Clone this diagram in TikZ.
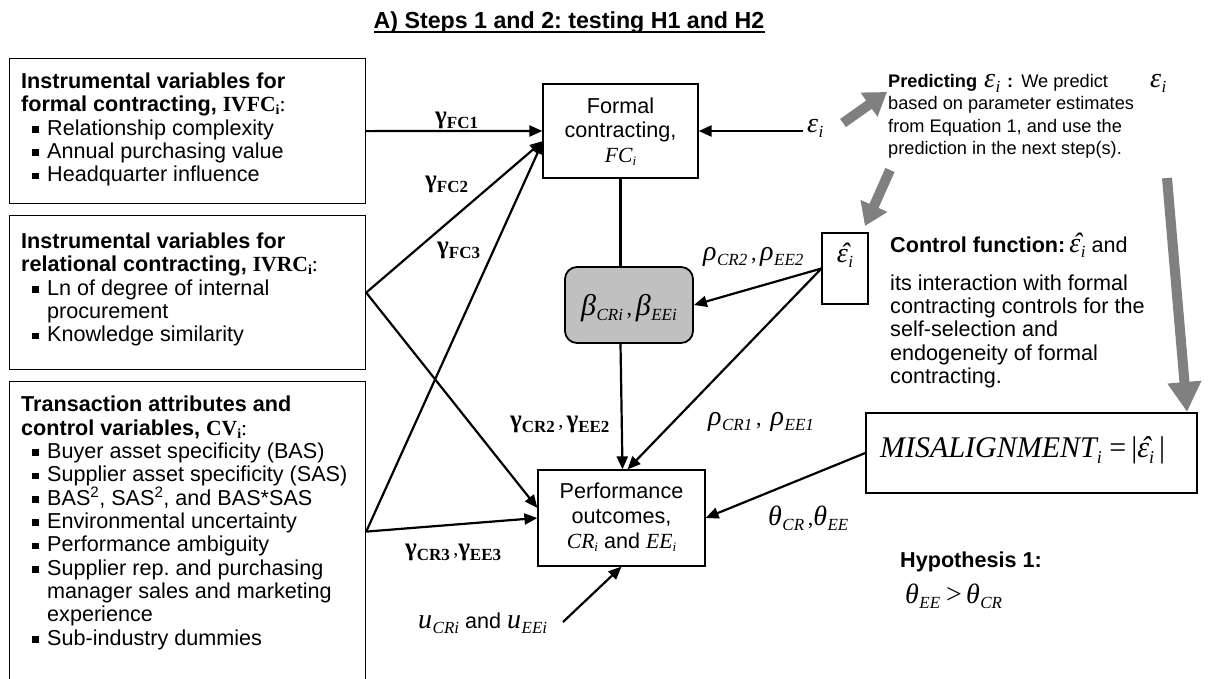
\documentclass[tikz,border=0pt]{standalone}
\usepackage{fontspec}
\setmainfont{Liberation Sans}
\newfontfamily\tnr{Liberation Serif}
\usetikzlibrary{arrows.meta,calc}
\frenchspacing

\definecolor{shade}{HTML}{C0C0C0}
\definecolor{garrow}{HTML}{808080}

% font size helper
\newcommand\fsz[1]{\fontsize{#1}{#1}\selectfont}
% italic variable with an italic subscript
\newcommand\mv[3][28]{{\fsz{#1}\tnr\itshape #2}\kern0.5pt\raisebox{-5.5pt}{\fsz{17}\tnr\itshape #3}}
% inline italic symbol with a small subscript, at the current size
\newcommand\iv[2]{{\tnr\itshape #1}\raisebox{-3pt}{\fsz{13}\tnr\itshape #2}}
% bold upright gamma with bold subscript
\newcommand\gm[1]{{\fsz{25}\tnr\bfseries γ}\raisebox{-5pt}{\fsz{17}\tnr\bfseries #1}}
% epsilon with a hat
\newcommand\ehat{\makebox[0pt][l]{\kern3.5pt ˆ}ε}

\tikzset{
  box/.style={draw, line width=1.2pt, inner sep=0pt},
  roundbox/.style={draw, line width=1.8pt, fill=shade, rounded corners=12pt, inner sep=0pt},
  arr/.style={line width=2.2pt, -{Triangle[length=13pt,width=11pt]}},
  plain/.style={line width=2.2pt},
  bigarr/.style={draw=garrow, line width=10pt, -{Triangle[length=22pt,width=28pt]}},
  txt/.style={inner sep=0pt, anchor=base west, font=\fsz{21.6}},
  ctxt/.style={inner sep=0pt, anchor=base, font=\fsz{21.6}},
  stxt/.style={inner sep=0pt, anchor=base west, font=\fsz{18.2}},
  mtxt/.style={inner sep=0pt, anchor=base west},
}

% bullet line inside the left boxes: name, baseline, text
\newcommand\bul[3]{%
  \fill (32,#2-9) rectangle ++(6.5,6.5);
  \node[txt] (#1) at (47,#2) {#3};}

\begin{document}
\begin{tikzpicture}[x=1pt,y=-1pt]
\useasboundingbox (0,0) rectangle (1210,678);

% title
\node[inner sep=0pt, anchor=base, font=\fsz{23.2}\bfseries] (title) at (569,28) {A) Steps 1 and 2: testing H1 and H2};
\draw[line width=2pt] ([yshift=-4pt]title.base west) -- ([yshift=-4pt]title.base east);

% left boxes
\node[box, anchor=north west, minimum width=356pt, minimum height=145pt] (ivfc) at (9,58) {};
\node[box, anchor=north west, minimum width=356pt, minimum height=154pt] (ivrc) at (9,215) {};
\node[box, anchor=north west, minimum width=356pt, minimum height=300pt] (cv) at (9,381) {};

\node[txt] (h1a) at (21,88.3) {\bfseries Instrumental variables for};
\node[txt] (h1b) at (21,111.6) {\bfseries formal contracting, {\tnr IVFC}\raisebox{-3pt}{\fsz{14}\tnr i}{\tnr\mdseries :}};
\bul{b1a}{135}{Relationship complexity}
\bul{b1b}{158.3}{Annual purchasing value}
\bul{b1c}{181.6}{Headquarter influence}

\node[txt] (h2a) at (21,248.3) {\bfseries Instrumental variables for};
\node[txt] (h2b) at (21,271.6) {\bfseries relational contracting, {\tnr IVRC}\raisebox{-3pt}{\fsz{14}\tnr i}{\tnr\mdseries :}};
\bul{b2a}{295}{Ln of degree of internal}
\node[txt] (b2a2) at (47,318.3) {procurement};
\bul{b2b}{341.6}{Knowledge similarity}

\node[txt] (h3a) at (21,411.7) {\bfseries Transaction attributes and};
\node[txt] (h3b) at (21,435) {\bfseries control variables, {\tnr CV}\raisebox{-3pt}{\fsz{14}\tnr i}{\tnr\mdseries :}};
\bul{b3a}{458.3}{Buyer asset specificity (BAS)}
\bul{b3b}{481.6}{Supplier asset specificity (SAS)}
\bul{b3c}{505}{BAS\textsuperscript{2}, SAS\textsuperscript{2}, and BAS*SAS}
\bul{b3d}{528.3}{Environmental uncertainty}
\bul{b3e}{551.6}{Performance ambiguity}
\bul{b3f}{575}{Supplier rep. and purchasing}
\node[txt] (b3f2) at (47,598.3) {manager sales and marketing};
\node[txt] (b3f3) at (47,621.6) {experience};
\bul{b3g}{645}{Sub-industry dummies}

% central boxes
\node[box, minimum width=155pt, minimum height=94pt] (fc) at (620.5,131) {};
\node[ctxt] (fct1) at (620.5,113) {Formal};
\node[ctxt] (fct2) at (620.5,137) {contracting,};
\node[ctxt] (fct3) at (620.5,162) {\iv{FC}{i}};

\node[roundbox, minimum width=128pt, minimum height=76pt] (beta) at (629,305) {};
\node[inner sep=0pt, anchor=base] (betat) at (629,315) {\mv[30]{β}{CRi}{\fsz{22}\tnr\,,\,}\mv[30]{β}{EEi}};

\node[box, minimum width=167pt, minimum height=96pt] (perf) at (621.5,518) {};
\node[ctxt] (pt1) at (621.5,498) {Performance};
\node[ctxt] (pt2) at (621.5,523) {outcomes,};
\node[ctxt] (pt3) at (621.5,548) {\iv{CR}{i} and \iv{EE}{i}};

% control function box
\node[box, minimum width=46pt, minimum height=71pt] (ehb) at (845,268.5) {};
\node[inner sep=0pt, anchor=base] (ehbt) at (845,262) {\mv{\ehat}{i}};

% misalignment box
\node[box, line width=1.4pt, minimum width=331pt, minimum height=80pt] (mis) at (1031.5,453) {};
\node[mtxt] (mist) at (880,457) {{\fsz{30}\tnr\itshape MISALIGNMENT}\raisebox{-6pt}{\fsz{18}\tnr\itshape i}{\fsz{30}\tnr\ =\,|}{\fsz{30}\tnr\itshape\ehat}\raisebox{-6pt}{\fsz{18}\tnr\itshape i}{\fsz{30}\tnr\,|}};

% error term
\node[mtxt] (eps) at (807,132) {\mv{ε}{i}};

% connectors
\draw[arr] (ivfc.east) -- (fc.west);
\coordinate (fcin) at (543,141);
\draw[arr] (ivrc.east) -- (fcin);
\draw[arr] (cv.east) -- (fcin);
\draw[arr] (ivrc.east) -- ($(perf.west)+(0,-10)$);
\draw[arr] (cv.east) -- (perf.west);
\draw[arr] ([xshift=-4pt]eps.west |- fc.east) -- (fc.east);
\draw[plain] (fc.south) -- (fc.south |- beta.north);
\draw[arr] (fc.south |- beta.south) -- ([xshift=1pt]perf.north);
\draw[arr] (ehb.west) -- (beta.east);
\draw[arr] (ehb.west) -- ([xshift=6pt]perf.north);
\draw[arr] (mis.west) -- (perf.east);
\coordinate (uend) at (563,622);
\draw[arr] (uend) -- (perf.south);

% connector labels
\node[mtxt] (lfc1) at (435,123) {\gm{FC1}};
\node[mtxt] (lfc2) at (425,187) {\gm{FC2}};
\node[mtxt] (lfc3) at (437,253) {\gm{FC3}};
\node[mtxt] (lcr2) at (510,427) {\gm{CR2}{\fsz{20}\tnr\,,\,}\gm{EE2}};
\node[mtxt] (lcr3) at (405,555) {\gm{CR3}{\fsz{20}\tnr\,,}\gm{EE3}};
\node[mtxt] (lrho2) at (703,260) {\mv{ρ}{CR2}{\fsz{22}\tnr\,,\,}\mv{ρ}{EE2}};
\node[mtxt] (lrho1) at (708,425) {\mv{ρ}{CR1}{\fsz{22}\tnr\,,\ \,}\mv{ρ}{EE1}};
\node[mtxt] (lth) at (768,525) {\mv{θ}{CR}{\fsz{22}\tnr\,,}\mv{θ}{EE}};
\node[mtxt, font=\fsz{21.6}] (lu) at (418,628) {\mv{u}{CRi} and \mv{u}{EEi}};

% explanatory notes
\node[stxt] (pr1a) at (888,87) {\textbf{Predicting}};
\node[mtxt] (pr1b) at (984,87) {\mv{ε}{i}};
\node[stxt] (pr1c) at (1007,87) {\textbf{:}\hspace{3pt} We predict};
\node[mtxt] (pr1d) at (1150,87) {\mv{ε}{i}};
\node[stxt] (pr2) at (888,109.5) {based on parameter estimates};
\node[stxt] (pr3) at (888,132) {from Equation 1, and use the};
\node[stxt] (pr4) at (888,154.5) {prediction in the next step(s).};

\node[txt] (cf1) at (890,252) {\textbf{Control function:}\hspace{4pt}\mv{\ehat}{i} and};
\node[txt] (cf2) at (890,290) {its interaction with formal};
\node[txt] (cf3) at (890,313.3) {contracting controls for the};
\node[txt] (cf4) at (890,336.6) {self-selection and};
\node[txt] (cf5) at (890,360) {endogeneity of formal};
\node[txt] (cf6) at (890,383.3) {contracting.};

\node[txt] (hy1) at (900,567) {\bfseries Hypothesis 1:};
\node[mtxt] (hy2) at (905,603) {\mv{θ}{EE}\hspace{6pt}{\fsz{28}\tnr >}\hspace{4pt}\mv{θ}{CR}};

% wide grey process arrows
\coordinate (g1s) at (843,123); \coordinate (g1e) at (887,92);
\coordinate (g2s) at (890,170); \coordinate (g2e) at (865,226);
\coordinate (g3s) at (1167,178); \coordinate (g3e) at (1187,412);
\draw[bigarr] (g1s) -- (g1e);
\draw[bigarr] (g2s) -- (g2e);
\draw[bigarr, -{Triangle[length=30pt,width=32pt]}] (g3s) -- (g3e);

\end{tikzpicture}
\end{document}
